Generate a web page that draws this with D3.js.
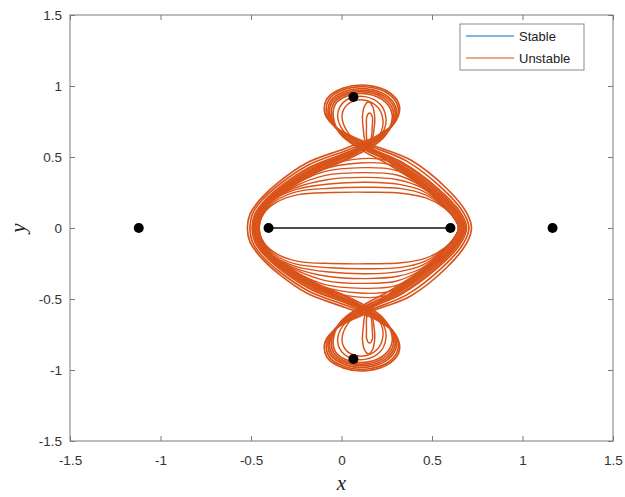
<!DOCTYPE html>
<html>
<head>
<meta charset="utf-8">
<script src="https://cdn.jsdelivr.net/npm/d3@7"></script>
<style>
  html, body { margin: 0; padding: 0; background: #fff; }
  svg { display: block; }
</style>
</head>
<body>
<svg id="chart" width="625" height="497"></svg>
<script>
// ---- axis ticks ----
const xTicks = [-1.5, -1, -0.5, 0, 0.5, 1, 1.5];
const yTicks = [-1.5, -1, -0.5, 0, 0.5, 1, 1.5];

// ---- legend entries ----
const seriesNames = ["Stable", "Unstable"];
const seriesColors = ["#0072BD", "#D95319"];

// ---- equilibrium points and the planar segment between the primaries ----
const equilibria = [[-1.12, 0], [1.166, 0], [-0.403, 0], [0.602, 0], [0.066, 0.922], [0.066, -0.922]];
const segment = [[-0.403, 0], [0.602, 0]];

// ---- unstable manifold strands (upper half, left turning point -> right turning point);
//      the lower half of each trajectory is its reflection about y = 0 ----
const bandStrands = [
  [[-0.52,0],[-0.505,0.10],[-0.45,0.20],[-0.35,0.32],[-0.19,0.46],[0.02,0.56],[0.19,0.645],[0.295,0.745],[0.32,0.86],[0.27,0.95],[0.14,1.005],[0.01,0.985],[-0.08,0.91],[-0.09,0.80],[-0.02,0.70],[0.16,0.59],[0.38,0.48],[0.58,0.28],[0.69,0.11],[0.718,0]],
  [[-0.506,0],[-0.492,0.098],[-0.44,0.195],[-0.342,0.308],[-0.18,0.445],[0.027,0.546],[0.193,0.636],[0.29,0.735],[0.313,0.848],[0.265,0.94],[0.142,0.993],[0.015,0.975],[-0.07,0.903],[-0.08,0.795],[-0.016,0.69],[0.15,0.583],[0.36,0.471],[0.556,0.279],[0.673,0.11],[0.704,0]],
  [[-0.494,0],[-0.479,0.096],[-0.427,0.19],[-0.33,0.30],[-0.171,0.431],[0.035,0.535],[0.198,0.63],[0.282,0.726],[0.303,0.835],[0.257,0.925],[0.139,0.98],[0.019,0.962],[-0.061,0.893],[-0.071,0.791],[-0.013,0.683],[0.14,0.573],[0.335,0.463],[0.535,0.276],[0.655,0.114],[0.691,0]],
  [[-0.482,0],[-0.466,0.094],[-0.414,0.188],[-0.32,0.29],[-0.16,0.418],[0.044,0.523],[0.202,0.624],[0.277,0.718],[0.296,0.824],[0.252,0.914],[0.14,0.968],[0.023,0.951],[-0.053,0.886],[-0.063,0.787],[-0.011,0.676],[0.13,0.566],[0.314,0.456],[0.514,0.274],[0.636,0.116],[0.679,0]],
  [[-0.468,0],[-0.453,0.092],[-0.402,0.184],[-0.31,0.28],[-0.15,0.404],[0.052,0.512],[0.206,0.617],[0.271,0.709],[0.288,0.812],[0.246,0.902],[0.14,0.957],[0.026,0.941],[-0.044,0.878],[-0.054,0.784],[-0.008,0.668],[0.12,0.558],[0.292,0.448],[0.492,0.272],[0.618,0.118],[0.666,0]],
  [[-0.455,0],[-0.44,0.09],[-0.39,0.18],[-0.30,0.27],[-0.14,0.39],[0.06,0.50],[0.21,0.61],[0.265,0.70],[0.28,0.80],[0.24,0.89],[0.14,0.945],[0.03,0.93],[-0.035,0.87],[-0.045,0.78],[-0.005,0.66],[0.11,0.55],[0.27,0.44],[0.47,0.27],[0.60,0.12],[0.652,0]]
];

const loopStrands = [
  [[-0.488,0],[-0.472,0.095],[-0.42,0.19],[-0.325,0.295],[-0.165,0.425],[0.04,0.53],[0.19,0.62],[0.235,0.69],[0.245,0.78],[0.215,0.87],[0.13,0.925],[0.04,0.91],[-0.01,0.85],[-0.02,0.77],[0.02,0.67],[0.135,0.57],[0.325,0.46],[0.525,0.275],[0.645,0.115],[0.685,0]],
  [[-0.474,0],[-0.459,0.093],[-0.408,0.186],[-0.315,0.285],[-0.155,0.41],[0.048,0.518],[0.18,0.615],[0.22,0.68],[0.228,0.77],[0.20,0.85],[0.13,0.90],[0.05,0.885],[0.01,0.83],[0.005,0.76],[0.04,0.665],[0.125,0.562],[0.30,0.452],[0.50,0.273],[0.627,0.117],[0.672,0]],
  [[-0.478,0],[-0.462,0.093],[-0.41,0.187],[-0.318,0.288],[-0.158,0.414],[0.046,0.52],[0.16,0.60],[0.18,0.70],[0.183,0.79],[0.17,0.86],[0.149,0.887],[0.128,0.86],[0.116,0.79],[0.12,0.70],[0.135,0.60],[0.2,0.53],[0.31,0.454],[0.51,0.274],[0.632,0.116],[0.676,0]],
  [[-0.462,0],[-0.447,0.091],[-0.396,0.182],[-0.305,0.275],[-0.145,0.397],[0.056,0.506],[0.155,0.60],[0.17,0.72],[0.17,0.785],[0.154,0.81],[0.14,0.785],[0.138,0.72],[0.145,0.60],[0.21,0.52],[0.283,0.445],[0.483,0.271],[0.61,0.119],[0.66,0]]
];

const lensStrands = [
  [[-0.455,0],[-0.43,0.10],[-0.36,0.18],[-0.24,0.235],[-0.05,0.25],[0.15,0.252],[0.33,0.245],[0.47,0.21],[0.57,0.14],[0.628,0.06],[0.645,0]],
  [[-0.456,0],[-0.432,0.10],[-0.365,0.19],[-0.25,0.255],[-0.06,0.28],[0.15,0.287],[0.33,0.277],[0.46,0.235],[0.565,0.15],[0.627,0.062],[0.646,0]],
  [[-0.457,0],[-0.435,0.10],[-0.37,0.20],[-0.25,0.272],[-0.07,0.31],[0.14,0.322],[0.32,0.307],[0.45,0.26],[0.56,0.16],[0.626,0.064],[0.647,0]],
  [[-0.458,0],[-0.437,0.10],[-0.372,0.20],[-0.26,0.28],[-0.08,0.34],[0.14,0.356],[0.31,0.34],[0.44,0.285],[0.555,0.17],[0.625,0.066],[0.648,0]],
  [[-0.459,0],[-0.438,0.10],[-0.375,0.20],[-0.27,0.285],[-0.09,0.37],[0.13,0.39],[0.30,0.375],[0.42,0.31],[0.55,0.18],[0.624,0.068],[0.649,0]],
  [[-0.46,0],[-0.44,0.10],[-0.378,0.20],[-0.28,0.29],[-0.10,0.395],[0.12,0.425],[0.29,0.41],[0.41,0.335],[0.545,0.19],[0.623,0.07],[0.65,0]],
  [[-0.461,0],[-0.441,0.10],[-0.38,0.20],[-0.29,0.29],[-0.11,0.41],[0.10,0.458],[0.27,0.445],[0.39,0.36],[0.54,0.20],[0.622,0.072],[0.651,0]],
  [[-0.462,0],[-0.442,0.10],[-0.382,0.20],[-0.30,0.29],[-0.12,0.42],[0.08,0.485],[0.25,0.475],[0.37,0.39],[0.53,0.21],[0.62,0.075],[0.652,0]]
];

// ---- layout ----
const svg = d3.select("#chart");
const plotLeft = 70, plotRight = 613, plotTop = 15, plotBottom = 441;
const x = d3.scaleLinear().domain([-1.5, 1.5]).range([plotLeft, plotRight]);
const y = d3.scaleLinear().domain([-1.5, 1.5]).range([plotBottom, plotTop]);

svg.append("rect").attr("width", 625).attr("height", 497).attr("fill", "#fff");

const tickFont = "'Liberation Sans', Arial, Helvetica, sans-serif";
const axisColor = "#7a7a7a";

// full closed trajectory: upper half followed by its mirrored lower half
function closedOrbit(upper) {
  const lower = upper.slice(1, -1).reverse().map(([px, py]) => [px, -py]);
  return upper.concat(lower);
}

const orbitLine = d3.line()
  .x(d => x(d[0]))
  .y(d => y(d[1]))
  .curve(d3.curveCatmullRomClosed.alpha(0.5));

const plot = svg.append("g");
plot.append("defs").append("clipPath").attr("id", "clip")
  .append("rect").attr("x", plotLeft).attr("y", plotTop)
  .attr("width", plotRight - plotLeft).attr("height", plotBottom - plotTop);

const orbits = plot.append("g").attr("clip-path", "url(#clip)");
[[lensStrands, 1.35], [bandStrands, 1.7], [loopStrands, 1.45]].forEach(([group, w]) => {
  orbits.selectAll(null)
    .data(group)
    .enter().append("path")
    .attr("d", s => orbitLine(closedOrbit(s)))
    .attr("fill", "none")
    .attr("stroke", seriesColors[1])
    .attr("stroke-width", w)
    .attr("stroke-linejoin", "round");
});

// segment between primaries
plot.append("line")
  .attr("x1", x(segment[0][0])).attr("y1", y(segment[0][1]))
  .attr("x2", x(segment[1][0])).attr("y2", y(segment[1][1]))
  .attr("stroke", "#111").attr("stroke-width", 1.4);

// equilibrium points
plot.selectAll("circle.eq")
  .data(equilibria)
  .enter().append("circle")
  .attr("class", "eq")
  .attr("cx", d => x(d[0])).attr("cy", d => y(d[1]))
  .attr("r", 5).attr("fill", "#000");

// ---- axes (ticks point inward, mirrored on top and right) ----
const fmt = d => String(d);
const gx = svg.append("g").attr("transform", `translate(0,${plotBottom})`)
  .call(d3.axisBottom(x).tickValues(xTicks).tickSize(-5).tickSizeOuter(0).tickPadding(14).tickFormat(fmt));
const gy = svg.append("g").attr("transform", `translate(${plotLeft},0)`)
  .call(d3.axisLeft(y).tickValues(yTicks).tickSize(-5).tickSizeOuter(0).tickPadding(8).tickFormat(fmt));
const gxt = svg.append("g").attr("transform", `translate(0,${plotTop})`)
  .call(d3.axisTop(x).tickValues(xTicks).tickSize(-5).tickSizeOuter(0).tickFormat(""));
const gyr = svg.append("g").attr("transform", `translate(${plotRight},0)`)
  .call(d3.axisRight(y).tickValues(yTicks).tickSize(-5).tickSizeOuter(0).tickFormat(""));

[gx, gy, gxt, gyr].forEach(g => {
  g.select(".domain").remove();
  g.selectAll(".tick line").attr("stroke", axisColor);
  g.selectAll(".tick text")
    .attr("fill", "#333")
    .style("font-family", tickFont)
    .style("font-size", "13.5px");
});

svg.append("rect")
  .attr("x", plotLeft).attr("y", plotTop)
  .attr("width", plotRight - plotLeft).attr("height", plotBottom - plotTop)
  .attr("fill", "none").attr("stroke", axisColor).attr("stroke-width", 1);

// axis titles
svg.append("text")
  .attr("x", (plotLeft + plotRight) / 2).attr("y", 490)
  .attr("text-anchor", "middle")
  .style("font-family", "'Liberation Serif', 'DejaVu Serif', serif")
  .style("font-style", "italic")
  .style("font-size", "21px")
  .attr("fill", "#222")
  .text("x");

svg.append("text")
  .attr("transform", `translate(18,${y(0)}) rotate(-90)`)
  .attr("text-anchor", "middle")
  .attr("dy", "0.35em")
  .style("font-family", "'Liberation Serif', 'DejaVu Serif', serif")
  .style("font-style", "italic")
  .style("font-size", "21px")
  .attr("fill", "#222")
  .text("y");

// ---- legend ----
const legend = svg.append("g");
legend.append("rect")
  .attr("x", 460).attr("y", 24).attr("width", 124).attr("height", 46)
  .attr("fill", "#fff").attr("stroke", "#8a8a8a").attr("stroke-width", 1);
const legendRows = legend.selectAll("g.row")
  .data(seriesNames)
  .enter().append("g")
  .attr("class", "row")
  .attr("transform", (d, i) => `translate(0,${36 + i * 22})`);
legendRows.append("line")
  .attr("x1", 466).attr("x2", 514).attr("y1", 0).attr("y2", 0)
  .attr("stroke", (d, i) => seriesColors[i]).attr("stroke-width", 1.2);
legendRows.append("text")
  .attr("x", 519).attr("y", 0).attr("dy", "0.35em")
  .style("font-family", tickFont)
  .style("font-size", "13px")
  .attr("fill", "#222")
  .text(d => d);
</script>
</body>
</html>
